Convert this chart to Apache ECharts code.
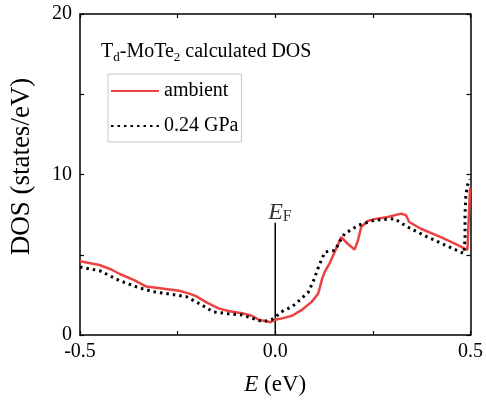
<!DOCTYPE html>
<html>
<head>
<meta charset="utf-8">
<script src="https://cdn.jsdelivr.net/npm/echarts@6/dist/echarts.min.js"></script>
<style>html,body{margin:0;padding:0;background:#fff}#c{width:486px;height:404px}</style>
</head>
<body>
<div id="c"></div>
<script>
// Data
const ambient = [
  [-0.5, 4.6], [-0.45, 4.36], [-0.42, 4.08], [-0.398, 3.8], [-0.36, 3.4], [-0.33, 3.02],
  [-0.29, 2.9], [-0.246, 2.76], [-0.22, 2.58], [-0.203, 2.42], [-0.175, 2.02], [-0.145, 1.66],
  [-0.12, 1.5], [-0.085, 1.36], [-0.06, 1.2], [-0.042, 0.95], [-0.012, 0.8], [0.0, 0.95],
  [0.02, 1.05], [0.043, 1.2], [0.07, 1.6], [0.094, 2.08], [0.11, 2.58], [0.12, 3.5],
  [0.128, 4.0], [0.14, 4.5], [0.169, 6.1], [0.185, 5.7], [0.203, 5.32], [0.212, 5.9],
  [0.22, 6.73], [0.237, 7.1], [0.254, 7.22], [0.288, 7.35], [0.322, 7.56], [0.335, 7.46],
  [0.343, 7.04], [0.373, 6.62], [0.424, 6.1], [0.46, 5.7], [0.492, 5.3], [0.497, 5.2],
  [0.499, 9.2]
];
const gpa024 = [
  [-0.5, 4.24], [-0.449, 4.0], [-0.4, 3.4], [-0.35, 2.95], [-0.313, 2.7], [-0.27, 2.55],
  [-0.228, 2.39], [-0.19, 1.9], [-0.16, 1.45], [-0.12, 1.32], [-0.085, 1.25], [-0.06, 1.05],
  [-0.033, 0.83], [-0.01, 0.95], [0.0, 1.12], [0.02, 1.5], [0.043, 1.76], [0.068, 2.29],
  [0.085, 2.68], [0.1, 3.5], [0.111, 4.26], [0.127, 5.17], [0.153, 5.27], [0.169, 6.0],
  [0.178, 6.31], [0.212, 6.83], [0.254, 7.15], [0.305, 7.25], [0.339, 6.73], [0.39, 6.1],
  [0.44, 5.55], [0.483, 5.07], [0.486, 6.0], [0.486, 7.5], [0.488, 8.7], [0.492, 9.3],
  [0.498, 9.7]
];
const fermiLine = [[0, 0], [0, 7]];
const fermiLabelPos = [[0.012, 7.65]];
const xTicks = [-0.5, 0.0, 0.5];
const yTicks = [0, 10, 20];
const seriesNames = ['ambient', '0.24 GPa'];

const serif = 'Liberation Serif';
const chart = echarts.init(document.getElementById('c'));
const axisCommon = {
  axisLine: { show: true, onZero: false, lineStyle: { color: '#000', width: 1.5 } },
  axisTick: { show: true, inside: true, length: 4, lineStyle: { color: '#000', width: 1.2 } },
  minorTick: { show: true, splitNumber: 2, length: 4, lineStyle: { color: '#000', width: 1.2 } },
  splitLine: { show: false }
};
function xAx(pos, showLabel) {
  return Object.assign({}, axisCommon, {
    type: 'value', position: pos, min: xTicks[0], max: xTicks[xTicks.length - 1], interval: 0.5,
    axisLabel: { show: showLabel, color: '#000', fontFamily: serif, fontSize: 20, margin: 7,
      formatter: v => v.toFixed(1) },
    name: showLabel ? '{i|E} (eV)' : '', nameLocation: 'middle', nameGap: 38,
    nameTextStyle: { color: '#000', fontFamily: serif, fontSize: 23,
      rich: { i: { fontStyle: 'italic', fontFamily: serif, fontSize: 23, color: '#000' } } }
  });
}
function yAx(pos, showLabel) {
  return Object.assign({}, axisCommon, {
    type: 'value', position: pos, min: yTicks[0], max: yTicks[yTicks.length - 1], interval: 10,
    axisLabel: { show: showLabel, color: '#000', fontFamily: serif, fontSize: 20, margin: 8 },
    name: showLabel ? 'DOS (states/eV)' : '', nameLocation: 'middle', nameGap: 45,
    nameTextStyle: { color: '#000', fontFamily: serif, fontSize: 27, padding: [0, 0, 0, 16] }
  });
}
chart.setOption({
  animation: false,
  grid: { left: 80, right: 13, top: 14, bottom: 69 },
  title: {
    text: '{n|T}{s|d}{n|-MoTe}{s|2}{n| calculated DOS}',
    left: 96, top: 36,
    textStyle: { fontWeight: 'normal', rich: {
      n: { fontFamily: serif, fontSize: 20, fontWeight: 'normal', color: '#000', lineHeight: 22 },
      s: { fontFamily: serif, fontSize: 13, fontWeight: 'normal', color: '#000', lineHeight: 13, padding: [12, 0, 0, 0] }
    } }
  },
  legend: {
    data: seriesNames,
    left: 108, top: 74, orient: 'vertical',
    padding: [7, 3, 6, 2], itemWidth: 48, itemHeight: 14, itemGap: 15,
    borderColor: '#c8c8c8', borderWidth: 1,
    itemStyle: { opacity: 0 },
    textStyle: { fontFamily: serif, fontSize: 20, color: '#000' }
  },
  xAxis: [xAx('bottom', true), xAx('top', false)],
  yAxis: [yAx('left', true), yAx('right', false)],
  series: [
    { name: seriesNames[0], type: 'line', data: ambient, showSymbol: false, symbol: 'none',
      lineStyle: { color: '#ec4242', width: 2.5 }, itemStyle: { color: '#ec4242' }, z: 3 },
    { name: seriesNames[1], type: 'line', data: gpa024, showSymbol: false, symbol: 'none',
      lineStyle: { color: '#000', width: 3, type: [2.5, 4] }, itemStyle: { color: '#000' }, z: 4 },
    { name: 'EF', type: 'line', data: fermiLine, showSymbol: false, symbol: 'none',
      lineStyle: { color: '#000', width: 1.5 }, z: 2 },
    { name: 'EFlabel', type: 'scatter', data: fermiLabelPos, symbolSize: 0,
      label: { show: true, position: 'inside', formatter: '{e|E}{f|F}',
        rich: {
          e: { fontFamily: serif, fontStyle: 'italic', fontSize: 24, color: '#000', lineHeight: 24 },
          f: { fontFamily: serif, fontSize: 16, color: '#000', lineHeight: 16, padding: [10, 0, 0, 0] }
        } } }
  ]
});
</script>
</body>
</html>
